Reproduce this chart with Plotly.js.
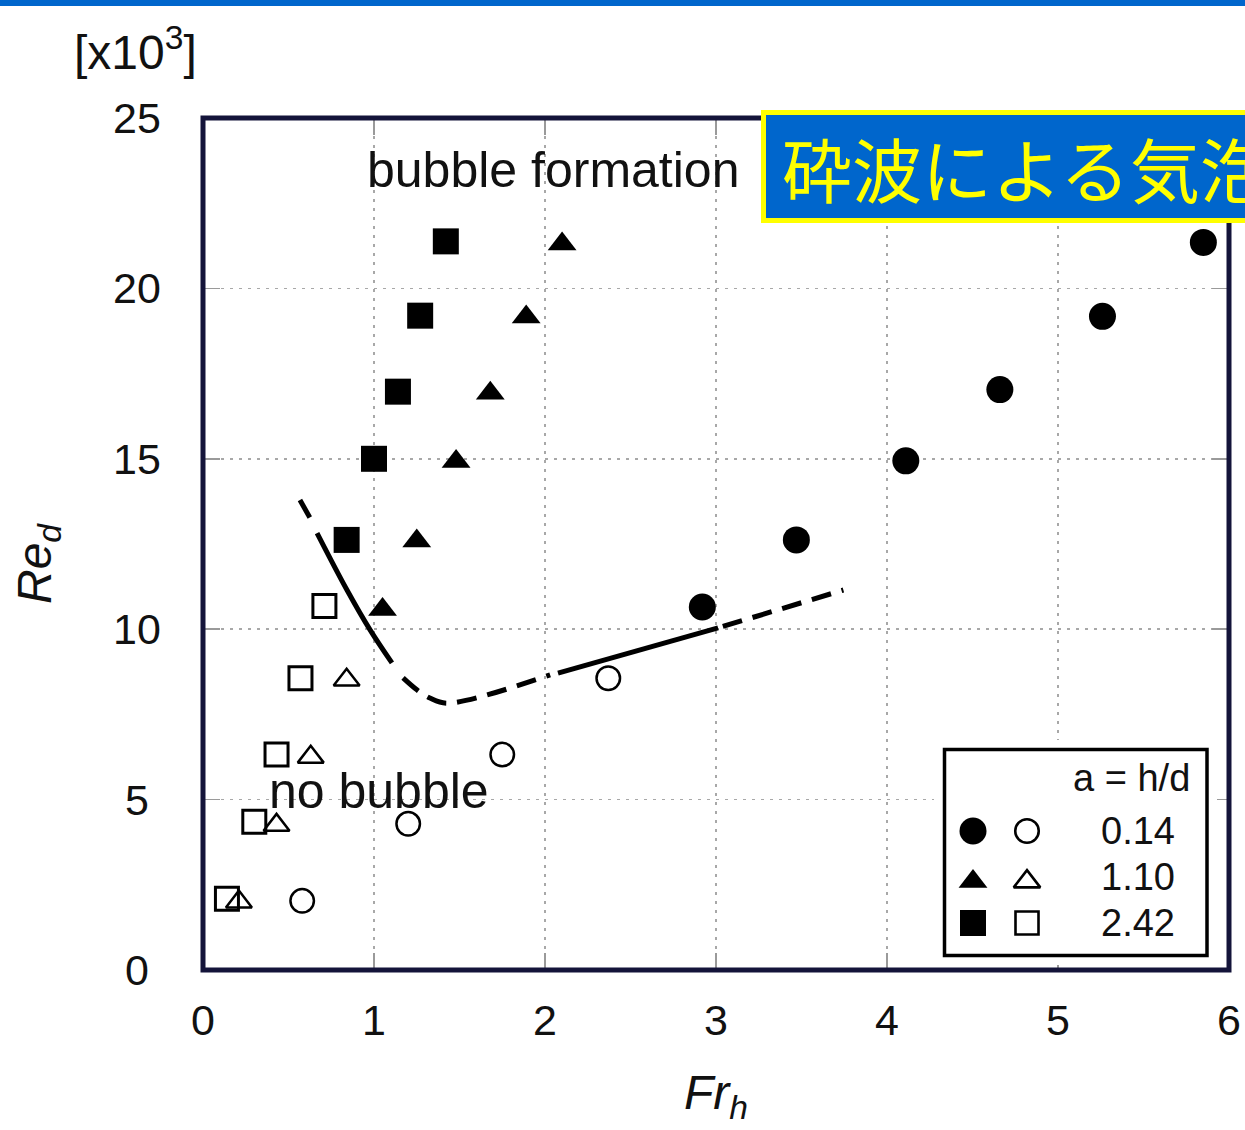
<!DOCTYPE html>
<html><head><meta charset="utf-8">
<script src="https://cdn.plot.ly/plotly-3.0.1.min.js"></script>
<style>html,body{margin:0;padding:0;background:#fff;overflow:hidden}#chart{width:1245px;height:1130px}</style>
</head><body><div id="chart"></div>
<script>
// ---------- data ----------
const xTickVals = [0, 1, 2, 3, 4, 5, 6];
const yTickVals = [0, 5, 10, 15, 20, 25];
const yTickText = ['0', '5', '10', '15', '20', '25'];

// a = 0.14 (circles)
const circleFilledX = [2.92, 3.47, 4.11, 4.66, 5.26, 5.85];
const circleFilledY = [10.65, 12.62, 14.94, 17.03, 19.18, 21.35];
const circleOpenX = [0.58, 1.20, 1.75, 2.37];
const circleOpenY = [2.03, 4.29, 6.32, 8.56];
// a = 1.10 (triangles)
const triFilledX = [1.05, 1.25, 1.48, 1.68, 1.89, 2.10];
const triFilledY = [10.58, 12.59, 14.92, 16.92, 19.16, 21.30];
const triOpenX = [0.21, 0.43, 0.63, 0.84];
const triOpenY = [2.00, 4.25, 6.25, 8.51];
// a = 2.42 (squares)
const sqFilledX = [0.84, 1.00, 1.14, 1.27, 1.42];
const sqFilledY = [12.62, 15.00, 16.97, 19.20, 21.38];
const sqOpenX = [0.14, 0.30, 0.43, 0.57, 0.71];
const sqOpenY = [2.09, 4.35, 6.32, 8.56, 10.68];

// boundary curve, split into its dashed and solid pieces
const dash1X = [0.567, 0.637];
const dash1Y = [13.79, 13.17];
const solid1X = [0.667, 0.842, 0.977, 1.105];
const solid1Y = [12.82, 11.15, 9.98, 9.01];
const dash2X = [1.170, 1.251, 1.327, 1.427, 2.030];
const dash2Y = [8.57, 8.22, 7.98, 7.83, 8.66];
const solid2X = [2.076, 3.012];
const solid2Y = [8.71, 10.04];
const dash3X = [3.040, 3.745];
const dash3Y = [10.08, 11.15];

// legend
const legendTitle = 'a = h/d';
const legendLabels = ['0.14', '1.10', '2.42'];
const legendFilledSymbols = ['circle', 'triangle-up', 'square'];
const legendOpenSymbols = ['circle-open', 'triangle-up-open', 'square-open'];

const bannerText = '砕波による気泡';
const upperLabel = 'bubble formation';
const lowerLabel = 'no bubble';

// ---------- layout geometry ----------
const PW = 1245, PH = 1130, ML = 203, MR = 16, MT = 118, MB = 160;
const W = PW - ML - MR, H = PH - MT - MB;
const px2x = p => (p - ML) / W;
const py2y = p => (PH - MB - p) / H;
// pixel -> main data units (for layout boxes only)
const pxX = p => (p - ML) / W * 6;
const pxY = p => (PH - MB - p) / H * 25;

const FONT = 'Liberation Sans, Arial, Helvetica, sans-serif';
const INK = '#111111';

// legend column / row slots (layout positions inside the legend box)
const legendCols = [0, 1];
const legendRows = [0, 1.1, 2];
const legendTextRows = [0, 1, 2];
const legendTextCol = 3.056;

function markerTrace(x, y, symbol, size, lw) {
  return {
    type: 'scatter', mode: 'markers', x: x, y: y, showlegend: false, hoverinfo: 'skip',
    marker: {symbol: symbol, size: size, color: '#000000', opacity: 1, line: {color: '#000000', width: lw}}
  };
}
function lineTrace(x, y, dash, shape) {
  return {
    type: 'scatter', mode: 'lines', x: x, y: y, showlegend: false, hoverinfo: 'skip',
    line: {color: '#000', width: 5, dash: dash, shape: shape || 'linear', smoothing: 1}
  };
}

const DASH = '20px,11px';
const traces = [
  lineTrace(dash1X, dash1Y, DASH),
  lineTrace(solid1X, solid1Y, 'solid', 'spline'),
  lineTrace(dash2X, dash2Y, DASH, 'spline'),
  lineTrace(solid2X, solid2Y, 'solid'),
  lineTrace(dash3X, dash3Y, DASH),
  markerTrace(circleFilledX, circleFilledY, 'circle', 27, 0),
  markerTrace(circleOpenX, circleOpenY, 'circle-open', 23.5, 2.5),
  markerTrace(triFilledX, triFilledY, 'triangle-up', 25, 0),
  markerTrace(triOpenX, triOpenY, 'triangle-up-open', 22.5, 2.5),
  markerTrace(sqFilledX, sqFilledY, 'square', 26, 0),
  markerTrace(sqOpenX, sqOpenY, 'square-open', 23, 3)
];

// legend keys drawn on their own small axes
const legFilled = markerTrace(legendRows.map(() => legendCols[0]), legendRows, legendFilledSymbols, [27, 25, 26], 0);
legFilled.xaxis = 'x3'; legFilled.yaxis = 'y3'; legFilled.cliponaxis = false;
const legOpen = markerTrace(legendRows.map(() => legendCols[1]), legendRows, legendOpenSymbols, [23.5, 23, 23], 2.6);
legOpen.xaxis = 'x3'; legOpen.yaxis = 'y3'; legOpen.cliponaxis = false;
traces.push(legFilled, legOpen);

// legend axes mapping (54 px per column, 46 px per row)
const legColPx = 973, legRowPx = 831, legColStep = 54, legRowStep = 46;
const lgDomX = [934, 1217], lgDomY = [740, 965];
const x3range = [(lgDomX[0] - legColPx) / legColStep, (lgDomX[1] - legColPx) / legColStep];
const y3range = [(lgDomY[1] - legRowPx) / legRowStep, (lgDomY[0] - legRowPx) / legRowStep];
const lgx = p => (p - legColPx) / legColStep;
const lgy = p => (p - legRowPx) / legRowStep;

const annotations = [];
// y tick labels (centred as in the original)
yTickVals.forEach((v, i) => annotations.push({
  xref: 'paper', yref: 'y', x: px2x(137), y: v, text: yTickText[i], showarrow: false,
  xanchor: 'center', yanchor: 'middle', font: {family: FONT, size: 43, color: INK}
}));
annotations.push(
  {xref: 'paper', yref: 'paper', x: px2x(135), y: py2y(49), text: '[x10<sup>3</sup>]', showarrow: false,
   xanchor: 'center', yanchor: 'middle', font: {family: FONT, size: 48, color: INK}},
  {xref: 'x', yref: 'y', x: 2.047, y: 23.47, text: upperLabel, showarrow: false,
   xanchor: 'center', yanchor: 'middle', font: {family: FONT, size: 50, color: INK}},
  {xref: 'x', yref: 'y', x: 1.03, y: 5.25, text: lowerLabel, showarrow: false,
   xanchor: 'center', yanchor: 'middle', font: {family: FONT, size: 50, color: INK}},
  {xref: 'paper', yref: 'paper', x: px2x(780), y: py2y(167), text: bannerText, showarrow: false,
   xanchor: 'left', yanchor: 'middle', font: {family: 'Noto Sans CJK JP, sans-serif', size: 70, color: '#FFFF00'}},
  {xref: 'x3', yref: 'y3', x: lgx(1131), y: lgy(778), text: legendTitle, showarrow: false,
   xanchor: 'center', yanchor: 'middle', font: {family: FONT, size: 38, color: INK}}
);
legendLabels.forEach((t, i) => annotations.push({
  xref: 'x3', yref: 'y3', x: legendTextCol, y: legendTextRows[i], text: t, showarrow: false,
  xanchor: 'center', yanchor: 'middle', font: {family: FONT, size: 38, color: INK}
}));

const shapes = [
  // legend box fill: above the grid, below the legend keys
  {type: 'rect', xref: 'x', yref: 'y', x0: pxX(944.5), x1: pxX(1207), y0: pxY(955.5), y1: pxY(749.5), layer: 'between',
   line: {width: 0}, fillcolor: '#ffffff', opacity: 1},
  // legend box border
  {type: 'rect', xref: 'paper', yref: 'paper', x0: px2x(944.5), x1: px2x(1207), y0: py2y(955.5), y1: py2y(749.5), layer: 'above',
   line: {color: '#000000', width: 3.5}, fillcolor: 'rgba(0,0,0,0)'},
  // plot frame
  {type: 'rect', xref: 'paper', yref: 'paper', x0: 0, x1: 1, y0: 0, y1: 1, layer: 'above',
   line: {color: '#14143a', width: 5}, fillcolor: 'rgba(0,0,0,0)'},
  // top blue bar
  {type: 'rect', xref: 'paper', yref: 'paper', x0: px2x(-10), x1: px2x(PW + 10), y0: py2y(6), y1: py2y(-10), layer: 'above',
   line: {width: 0}, fillcolor: '#0066CC'},
  // banner box
  {type: 'rect', xref: 'paper', yref: 'paper', x0: px2x(763.5), x1: px2x(PW + 30), y0: py2y(220.5), y1: py2y(112.5), layer: 'above',
   line: {color: '#FFFF00', width: 5}, fillcolor: '#0066CC'}
];

const gridCommon = {
  showgrid: true, gridcolor: '#a8a8a8', gridwidth: 1.5, griddash: '3px,6px',
  zeroline: false, showline: false, ticks: 'inside', ticklen: 17, tickwidth: 1.5, tickcolor: '#9a9a9a',
  mirror: 'ticks', fixedrange: true
};

const layout = {
  width: PW, height: PH, margin: {l: ML, r: MR, t: MT, b: MB, pad: 0},
  paper_bgcolor: '#ffffff', plot_bgcolor: '#ffffff', showlegend: false,
  font: {family: FONT, color: INK},
  xaxis: Object.assign({}, gridCommon, {
    range: [0, 6], tickmode: 'array', tickvals: xTickVals, ticktext: xTickVals.map(String),
    tickfont: {family: FONT, size: 43, color: INK}, ticklabelstandoff: 21,
    title: {text: '<i>Fr<sub>h</sub></i>', font: {family: FONT, size: 48, color: INK}, standoff: 32}
  }),
  yaxis: Object.assign({}, gridCommon, {
    range: [0, 25], tickmode: 'array', tickvals: yTickVals, showticklabels: false,
    title: {text: '<i>Re<sub>d</sub></i>&nbsp;&nbsp;&nbsp;', font: {family: FONT, size: 48, color: INK}, standoff: 135}
  }),
  xaxis3: {domain: [px2x(lgDomX[0]), px2x(lgDomX[1])], anchor: 'y3', range: x3range, visible: false, fixedrange: true},
  yaxis3: {domain: [py2y(lgDomY[1]), py2y(lgDomY[0])], anchor: 'x3', range: y3range, visible: false, fixedrange: true},
  shapes: shapes,
  annotations: annotations
};

Plotly.newPlot('chart', traces, layout, {displayModeBar: false, staticPlot: true});
</script>
</body></html>
